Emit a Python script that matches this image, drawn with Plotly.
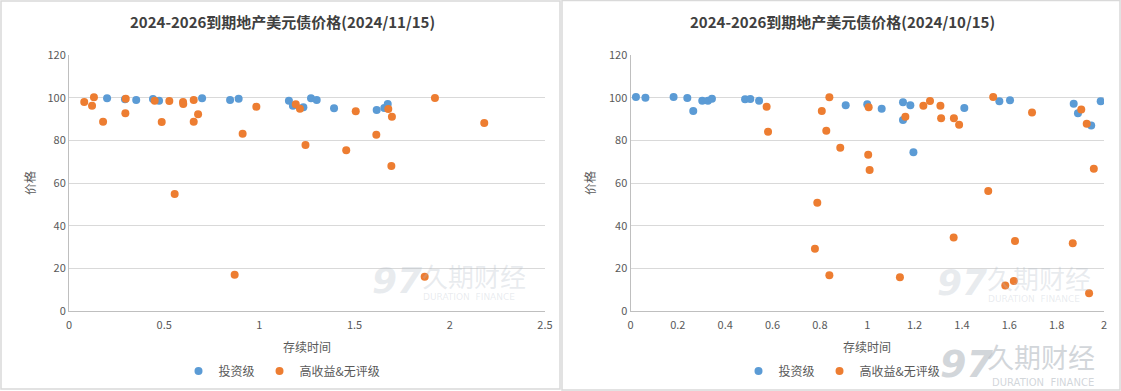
import plotly.graph_objects as go

# ---------------- data ----------------
# Left panel (2024/11/15)
l_ig_x = [0.200, 0.294, 0.353, 0.441, 0.473, 0.699, 0.846, 0.891, 1.155, 1.176,
          1.231, 1.271, 1.301, 1.392, 1.616, 1.656, 1.674]
l_ig_y = [99.7, 99.2, 98.9, 99.4, 98.6, 99.7, 98.9, 99.5, 98.6, 96.2,
          95.5, 99.7, 98.9, 95.0, 94.2, 95.2, 97.0]
l_hy_x = [0.080, 0.121, 0.131, 0.179, 0.296, 0.298, 0.450, 0.487, 0.527, 0.555,
          0.599, 0.600, 0.655, 0.655, 0.678, 0.870, 0.912, 0.984, 1.191, 1.213,
          1.242, 1.456, 1.506, 1.614, 1.677, 1.696, 1.693, 1.868, 1.922, 2.181]
l_hy_y = [98.0, 96.2, 100.2, 88.7, 92.7, 99.5, 98.6, 88.6, 98.4, 54.8,
          98.0, 97.0, 98.9, 88.7, 92.2, 17.0, 83.1, 95.8, 96.9, 94.8,
          77.8, 75.3, 93.6, 82.6, 94.7, 91.1, 68.0, 16.1, 99.8, 88.1]

# Right panel (2024/10/15)
r_ig_x = [0.023, 0.063, 0.182, 0.240, 0.265, 0.303, 0.327, 0.344, 0.484, 0.506,
          0.543, 0.909, 1.000, 1.061, 1.151, 1.151, 1.182, 1.195, 1.410, 1.558,
          1.603, 1.872, 1.890, 1.946, 1.986]
r_ig_y = [100.3, 100.0, 100.3, 99.8, 93.8, 98.6, 98.6, 99.5, 99.2, 99.4,
          98.6, 96.4, 96.9, 94.8, 97.8, 89.5, 96.4, 74.4, 95.2, 98.3,
          98.8, 97.2, 92.7, 86.9, 98.3]
r_hy_x = [0.575, 0.581, 0.779, 0.789, 0.808, 0.827, 0.840, 0.840, 0.886, 1.006,
          1.004, 1.010, 1.138, 1.161, 1.237, 1.265, 1.309, 1.312, 1.365, 1.366,
          1.388, 1.511, 1.532, 1.583, 1.619, 1.624, 1.696, 1.868, 1.904, 1.927,
          1.937, 1.957]
r_hy_y = [95.8, 84.0, 29.2, 50.8, 93.8, 84.5, 100.2, 16.7, 76.5, 95.5,
          73.3, 66.1, 15.8, 91.1, 96.2, 98.4, 96.2, 90.3, 34.4, 90.3,
          87.3, 56.3, 100.3, 12.0, 14.1, 32.8, 93.0, 31.7, 94.4, 87.8,
          8.3, 66.7]

titles = ["2024-2026到期地产美元债价格(2024/11/15)", "2024-2026到期地产美元债价格(2024/10/15)"]
series_names = ["投资级", "高收益&无评级"]
x_title = "存续时间"
y_title = "价格"

BLUE = "#5B9BD5"
ORANGE = "#ED7D31"
FONT = "Noto Sans CJK SC"
TXT = "#595959"

W, H = 1121, 391


def px(x):
    return x / W


def py(y):
    return 1 - y / H


fig = go.Figure()

for i, (ix, iy, hx, hy) in enumerate([(l_ig_x, l_ig_y, l_hy_x, l_hy_y),
                                       (r_ig_x, r_ig_y, r_hy_x, r_hy_y)]):
    xa = "x" if i == 0 else "x2"
    ya = "y" if i == 0 else "y2"
    lg = "legend" if i == 0 else "legend2"
    fig.add_trace(go.Scatter(x=ix, y=iy, mode="markers", name=series_names[0],
                             marker=dict(color=BLUE, size=8), xaxis=xa, yaxis=ya,
                             legend=lg))
    fig.add_trace(go.Scatter(x=hx, y=hy, mode="markers", name=series_names[1],
                             marker=dict(color=ORANGE, size=8), xaxis=xa, yaxis=ya,
                             legend=lg))

axis_common = dict(showgrid=False, zeroline=False, showline=True, linecolor="#BFBFBF",
                   linewidth=1, ticks="", tickfont=dict(family=FONT, size=11, color=TXT),
                   fixedrange=True, automargin=False, ticklabelstandoff=4)
yaxis_common = dict(range=[0, 120], dtick=20, showgrid=True, gridcolor="#D9D9D9",
                    gridwidth=1, zeroline=False, showline=True, linecolor="#BFBFBF",
                    ticks="", tickfont=dict(family=FONT, size=11, color=TXT),
                    fixedrange=True, automargin=False)

ydom = [py(311), py(55)]
legend_common = dict(orientation="h", xanchor="center", y=py(371), yanchor="middle",
                     font=dict(family=FONT, size=12, color=TXT), itemwidth=30,
                     bgcolor="rgba(0,0,0,0)", tracegroupgap=0)
fig.update_layout(
    template="none",
    width=W, height=H,
    margin=dict(l=0, r=0, t=0, b=0, pad=0, autoexpand=False),
    paper_bgcolor="white", plot_bgcolor="white",
    font=dict(family=FONT, color=TXT),
    xaxis=dict(domain=[px(69), px(545)], range=[0, 2.5], dtick=0.5, anchor="y", **axis_common),
    yaxis=dict(domain=ydom, anchor="x", **yaxis_common),
    xaxis2=dict(domain=[px(630.5), px(1104)], range=[0, 2], dtick=0.2, anchor="y2", **axis_common),
    yaxis2=dict(domain=ydom, anchor="x2", **yaxis_common),
    legend=dict(x=px(282), **legend_common),
    legend2=dict(x=px(842), **legend_common),
    showlegend=True,
)

shapes = [
    dict(type="rect", xref="paper", yref="paper", x0=px(1), x1=px(560), y0=py(389), y1=py(1),
         line=dict(color="#D9D9D9", width=1.5), fillcolor="rgba(0,0,0,0)", layer="below"),
    dict(type="rect", xref="paper", yref="paper", x0=px(562), x1=px(1120), y0=py(390), y1=py(0.5),
         line=dict(color="#D9D9D9", width=1.5), fillcolor="rgba(0,0,0,0)", layer="below"),
]
fig.update_layout(shapes=shapes)

ann = []
for cx, t in [(282, titles[0]), (842, titles[1])]:
    ann.append(dict(text="<b>" + t + "</b>", x=px(cx), y=py(22), xref="paper", yref="paper",
                    showarrow=False, xanchor="center", yanchor="middle",
                    font=dict(family=FONT, size=15, color="#404040")))
for cx in [307, 867]:
    ann.append(dict(text=x_title, x=px(cx), y=py(346), xref="paper", yref="paper",
                    showarrow=False, xanchor="center", yanchor="middle",
                    font=dict(family=FONT, size=12, color=TXT)))
for cx in [30, 590]:
    ann.append(dict(text=y_title, x=px(cx), y=py(183), xref="paper", yref="paper",
                    showarrow=False, xanchor="center", yanchor="middle", textangle=-90,
                    font=dict(family=FONT, size=12, color=TXT)))

# watermarks (semi-transparent so the dots show through)
WM = "rgba(175,185,198,0.28)"
for lx, ly in [(370, 280), (935, 282)]:
    ann.append(dict(text="<i><b>97</b></i>", x=px(lx), y=py(ly), xref="paper", yref="paper",
                    showarrow=False, xanchor="left", yanchor="middle",
                    font=dict(family="DejaVu Sans", size=36, color=WM)))
    ann.append(dict(text="久期财经", x=px(lx + 50), y=py(ly - 5), xref="paper", yref="paper",
                    showarrow=False, xanchor="left", yanchor="middle",
                    font=dict(family=FONT, size=26, color=WM)))
    ann.append(dict(text="DURATION  FINANCE", x=px(lx + 51), y=py(ly + 17), xref="paper", yref="paper",
                    showarrow=False, xanchor="left", yanchor="middle",
                    font=dict(family="DejaVu Sans", size=9, color=WM)))
# bottom-right big watermark
WM2 = "rgba(180,186,194,0.6)"
ann.append(dict(text="<i><b>97</b></i>", x=px(938), y=py(364), xref="paper", yref="paper",
                showarrow=False, xanchor="left", yanchor="middle",
                font=dict(family="DejaVu Sans", size=38, color=WM2)))
ann.append(dict(text="久期财经", x=px(985), y=py(356), xref="paper", yref="paper",
                showarrow=False, xanchor="left", yanchor="middle",
                font=dict(family=FONT, size=27, color=WM2)))
ann.append(dict(text="DURATION  FINANCE", x=px(990), y=py(382), xref="paper", yref="paper",
                showarrow=False, xanchor="left", yanchor="middle",
                font=dict(family="DejaVu Sans", size=10, color=WM2)))

fig.update_layout(annotations=ann)

fig.write_html("out.html", post_script="document.body.style.margin='0';",
               config={"displayModeBar": False})
